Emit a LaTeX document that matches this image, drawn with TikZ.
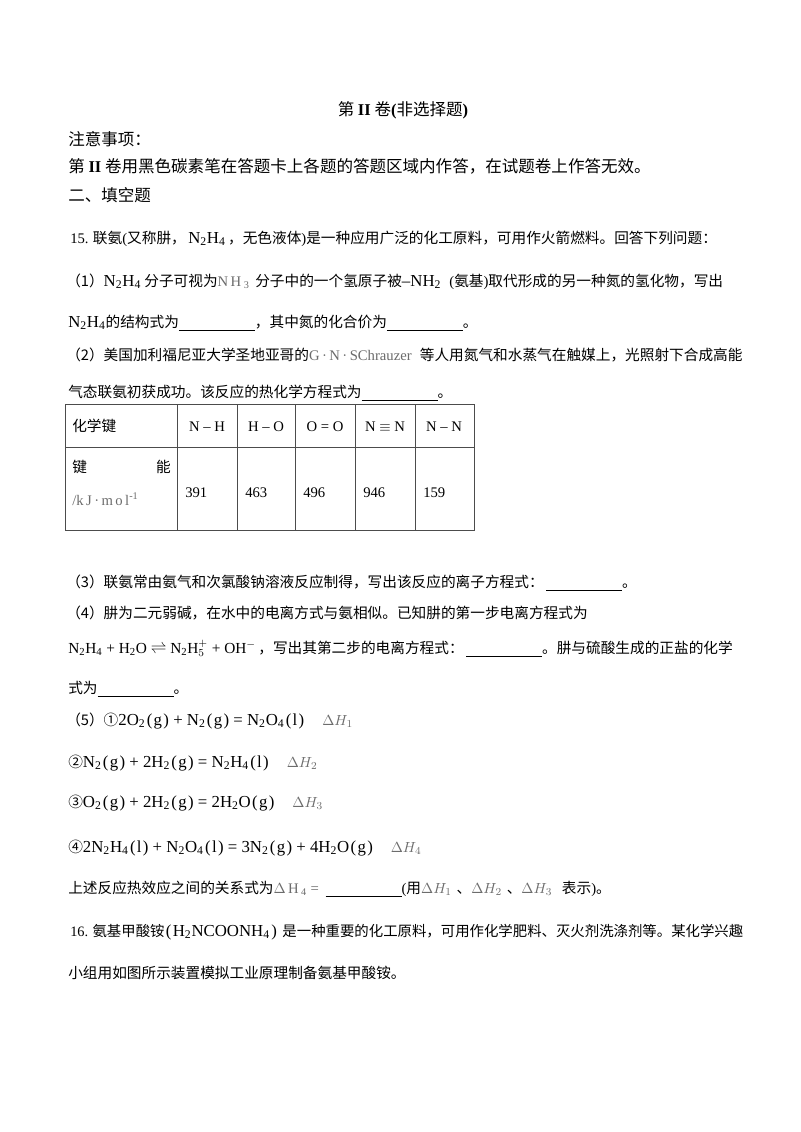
\documentclass[tikz,border=0pt]{standalone}
\usepackage{fontspec}
\setmainfont{Liberation Serif}
\newfontfamily\cjk{Noto Sans CJK SC}
\usetikzlibrary{positioning}
\colorlet{colorPale}{gray!85!black}
\colorlet{colorRule}{gray!60!black}
\newcommand{\en}[1]{{\rmfamily #1}}
\newcommand{\dn}[1]{\textsubscript{#1}}
\newcommand{\upi}[1]{\textsuperscript{#1}}
\newcommand{\blank}[1][57pt]{\rule[-2.5pt]{#1}{0.6pt}}
\newcommand{\dH}[1]{{\color{colorPale}$\Delta H_{#1}$}}
\newcommand{\eqf}{\fontsize{12.6}{14}\selectfont}
\newcommand{\ph}[1]{\kern1pt(\kern1pt#1\kern1pt)}
\newcommand{\gs}{\ph{g}}
\newcommand{\ls}{\ph{l}}
\tikzset{
   every node/.style={font=\cjk\fontsize{11}{14}\selectfont, inner sep=0pt},
   head/.style={anchor=base west, font=\cjk\fontsize{12.4}{15}\selectfont},
   txt/.style={anchor=base west},
   num/.style={anchor=base west},
   bond/.style={anchor=base},
   grid/.style={color=colorRule, line width=0.6pt},
}

\begin{document}
\begin{tikzpicture}[x=0.75pt,y=-0.75pt]
        \fill[white] (0,0) rectangle (800,1132);
        \useasboundingbox (0,0) rectangle (800,1132);

        \node[head,anchor=base] (title) at (403,115) {第 \en{\textbf{II}} 卷\en{\textbf{(}}非选择题\en{\textbf{)}}};
        \node[head] (note) at (68,145) {注意事项：};
        \node[head] (rule) at (68,172) {第 \en{\textbf{II}} 卷用黑色碳素笔在答题卡上各题的答题区域内作答，在试题卷上作答无效。};
        \node[head] (sec)  at (68,201) {二、填空题};

        \node[txt] (q15)  at (70,243) {\en{15.} 联氨\en{(}又称肼，\,{\eqf\en{N\dn2H\dn4}}\,，无色液体\en{)}是一种应用广泛的化工原料，可用作火箭燃料。回答下列问题：};
        \node[txt] (q1a)  at (66,286) {（1）{\eqf\en{N\dn2H\dn4}} 分子可视为{\color{colorPale}\en{N\,H\,\dn3}}\, 分子中的一个氢原子被{\eqf\en{–NH\dn2}}\,\, \en{(}氨基\en{)}取代形成的另一种氮的氢化物，写出};
        \node[txt] (q1b)  at (68,327) {{\eqf\en{N\dn2H\dn4}}的结构式为\blank，其中氮的化合价为\blank。};

        \node[txt] (q2a)  at (66,360) {（2）美国加利福尼亚大学圣地亚哥的{\color{colorPale}\en{G\,·\,N\,·\,SChrauzer}}\,\, 等人用氮气和水蒸气在触媒上，光照射下合成高能};
        \node[txt] (q2b)  at (68,397) {气态联氨初获成功。该反应的热化学方程式为\blank。};

        % bond energy table
        \draw[grid] (65,404) rectangle (474,530);
        \draw[grid] (65,447) -- (474,447);
        \foreach \cx in {177,237,295,355,415}
          \draw[grid] (\cx,404) -- (\cx,530);

        \node[txt]  (hbond) at (72,431) {化学键};
        \node[bond] (bNH) at (207,431) {\en{N – H}};
        \node[bond] (bHO) at (266,431) {\en{H – O}};
        \node[bond] (bOO) at (325,431) {\en{O = O}};
        \node[bond] (bNN3) at (385,431) {\en{N $\equiv$ N}};
        \node[bond] (bNN) at (444,431) {\en{N – N}};

        \node[txt] (hjian) at (72,472) {键};
        \node[anchor=base east] (hneng) at (171,472) {能};
        \node[txt] (hunit) at (72,505) {{\color{colorPale}\en{/k\,J\,·\,m\,o\,l\upi{-1}}}};
        \node[num] (eNH) at (185,497) {\en{391}};
        \node[num] (eHO) at (245,497) {\en{463}};
        \node[num] (eOO) at (303,497) {\en{496}};
        \node[num] (eNN3) at (363,497) {\en{946}};
        \node[num] (eNN) at (423,497) {\en{159}};

        \node[txt] (q3)   at (66,587) {（3）联氨常由氨气和次氯酸钠溶液反应制得，写出该反应的离子方程式：\,\blank。};
        \node[txt] (q4a)  at (66,618) {（4）肼为二元弱碱，在水中的电离方式与氨相似。已知肼的第一步电离方程式为};
        \node[txt] (q4b)  at (68,653) {{\fontsize{11.5}{14}\selectfont\en{N\dn2H\dn4 + H\dn2O $\rightleftharpoons$ N\dn2H$^{+}_{5}$ + OH$^{-}$}}\,，写出其第二步的电离方程式：\,\blank。肼与硫酸生成的正盐的化学};
        \node[txt] (q4c)  at (68,693) {式为\blank。};

        \node[txt] (q5a)  at (66,725) {（5）①{\eqf\en{2O\dn2\gs\ + N\dn2\gs\ = N\dn2O\dn4\ls}}\quad\ \dH{1}};
        \node[txt] (q5b)  at (68,767) {②{\eqf\en{N\dn2\gs\ + 2H\dn2\gs\ = N\dn2H\dn4\ls}}\quad\ \dH{2}};
        \node[txt] (q5c)  at (68,807) {③{\eqf\en{O\dn2\gs\ + 2H\dn2\gs\ = 2H\dn2O\gs}}\quad\ \dH{3}};
        \node[txt] (q5d)  at (68,852) {④{\eqf\en{2N\dn2H\dn4\ls\ + N\dn2O\dn4\ls\ = 3N\dn2\gs\ + 4H\dn2O\gs}}\quad\ \dH{4}};
        \node[txt] (q5e)  at (68,893) {上述反应热效应之间的关系式为{\color{colorPale}\en{$\Delta$\,H\,\dn4 =}}\ \ \blank\en{(}用\dH{1}\,\,、\dH{2}\,\,、\dH{3}\ \ \ 表示\en{)}。};

        \node[txt,font=\cjk\fontsize{10.8}{14}\selectfont] (q16a) at (70,936) {\en{16.} 氨基甲酸铵{\eqf\en{\ph{H\dn2NCOONH\dn4}}}\, 是一种重要的化工原料，可用作化学肥料、灭火剂洗涤剂等。某化学兴趣};
        \node[txt] (q16b) at (68,978) {小组用如图所示装置模拟工业原理制备氨基甲酸铵。};

\end{tikzpicture}
\end{document}
